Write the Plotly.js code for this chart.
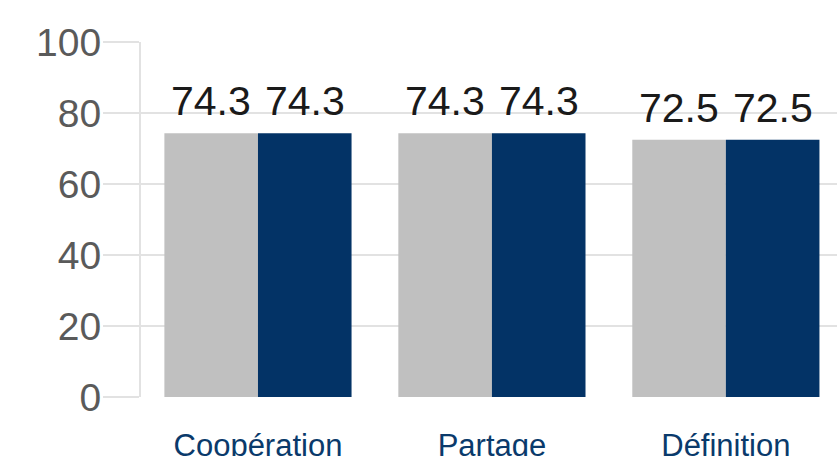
<!DOCTYPE html>
<html>
<head>
<meta charset="utf-8">
<script src="https://cdn.plot.ly/plotly-3.0.1.min.js"></script>
<style>
html,body{margin:0;padding:0;overflow:hidden;background:#fff;}
#chart{width:837px;height:456px;}
</style>
</head>
<body>
<div id="chart"></div>
<script>
const categories = ["Coopération", "Partage", "Définition"];
const seriesA = [74.3, 74.3, 72.5];
const seriesB = [74.3, 74.3, 72.5];
const yTicks = [0, 20, 40, 60, 80, 100];

const font = "Liberation Sans, Arial, Helvetica, sans-serif";
const bargap = 0.2;
const barUnit = (1 - bargap) / 2; // width of one bar in category units

const traces = [
  {type: "bar", x: categories, y: seriesA, name: "A",
   marker: {color: "#c0c0c0"}, hoverinfo: "none"},
  {type: "bar", x: categories, y: seriesB, name: "B",
   marker: {color: "#033366"}, hoverinfo: "none"}
];

const annotations = [];
categories.forEach((c, i) => {
  [[seriesA, -1], [seriesB, 1]].forEach(([s, side]) => {
    annotations.push({
      xref: "x", yref: "y",
      x: i + side * barUnit / 2, y: s[i],
      text: s[i].toFixed(1), showarrow: false,
      xanchor: "center", yanchor: "bottom", yshift: 7,
      font: {family: font, size: 41, color: "#1a1a1a"}
    });
  });
});

const layout = {
  width: 837, height: 456,
  margin: {l: 141, r: 0, t: 42, b: 59},
  paper_bgcolor: "#fff", plot_bgcolor: "#fff",
  showlegend: false,
  barmode: "group", bargap: bargap, bargroupgap: 0,
  font: {family: font},
  annotations: annotations,
  xaxis: {
    type: "category", range: [-0.5, 2.475],
    showgrid: false, zeroline: false, showline: false,
    ticks: "", ticklabelstandoff: 27,
    tickfont: {family: font, size: 31, color: "#0a3a6b"},
    fixedrange: true
  },
  yaxis: {
    range: [0, 100], tickvals: yTicks, ticktext: yTicks.map(String),
    showgrid: true, gridcolor: "#e2e2e2", gridwidth: 1.5,
    zeroline: false,
    showline: true, linecolor: "#e2e2e2", linewidth: 2,
    ticks: "outside", ticklen: 36, tickcolor: "#e2e2e2", tickwidth: 1.5,
    ticklabelstandoff: -6,
    tickfont: {family: font, size: 39, color: "#5a5a5a"},
    fixedrange: true
  }
};

Plotly.newPlot("chart", traces, layout, {displayModeBar: false, staticPlot: true});
</script>
</body>
</html>
